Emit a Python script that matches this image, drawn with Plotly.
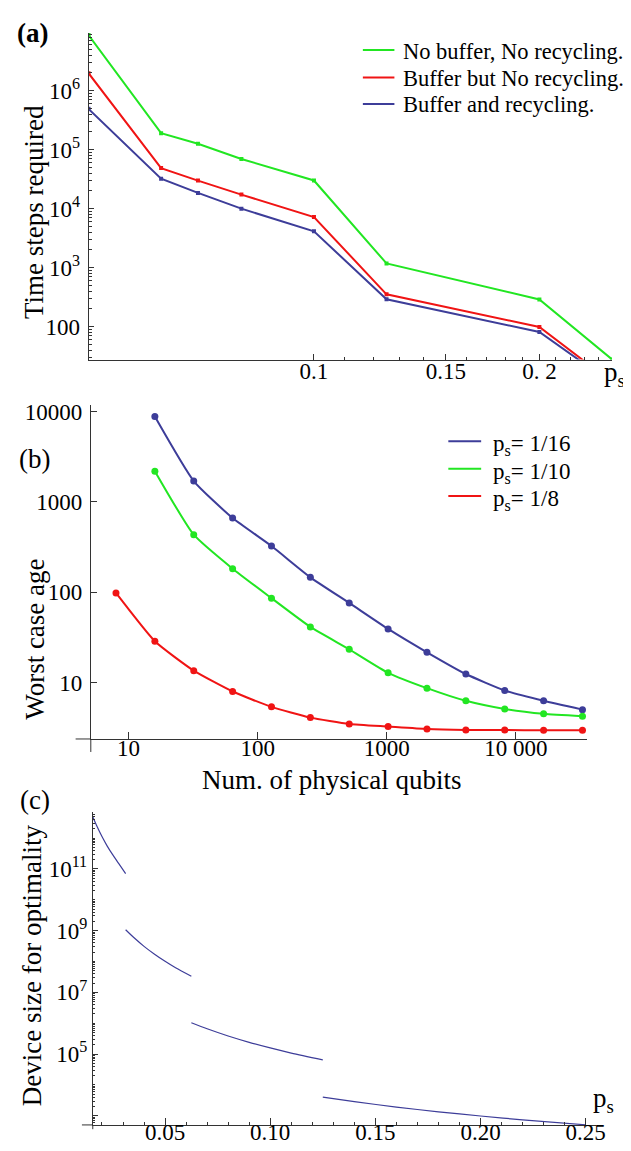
import plotly.graph_objects as go

W, H = 631, 1151
FONT = "Liberation Serif"
AX = "#333333"
GREEN = "#22e622"
RED = "#f01414"
BLUE = "#3d3d99"

# ---------------- data: panel (a) ----------------
ps_a = [0.05, 0.0625, 0.07, 0.08, 0.1, 0.125, 0.2, 0.25]
steps_nobuf_norecyc = [8.7e6, 1.9e5, 1.26e5, 6.95e4, 3.0e4, 1180, 290, 28]
steps_buf_norecyc = [1.97e6, 4.86e4, 2.99e4, 1.73e4, 7.2e3, 354, 99, 11.5]
steps_buf_recyc = [4.9e5, 3.22e4, 1.85e4, 1.0e4, 4130, 292, 81.5, 11]
names_a = ["No buffer, No recycling.", "Buffer but No recycling.", "Buffer and recycling."]
xtickvals_a = [0.1, 0.15, 0.2]
xticktext_a = ["0.1", "0.15", "0. 2"]
xminor_a = [0.11, 0.12, 0.13, 0.14, 0.16, 0.17, 0.18, 0.19, 0.21, 0.22, 0.23, 0.24]
ytickvals_a = [100, 1e3, 1e4, 1e5, 1e6]
yticktext_a = ["100", "10<sup>3</sup>", "10<sup>4</sup>", "10<sup>5</sup>", "10<sup>6</sup>"]

# ---------------- data: panel (b) ----------------
qubits_8 = [8, 16, 32, 64, 128, 256, 512, 1024, 2048, 4096, 8192, 16384, 32768]
qubits_16 = [16, 32, 64, 128, 256, 512, 1024, 2048, 4096, 8192, 16384, 32768]
age_ps16 = [8810, 1700, 662, 324, 146, 76, 39.2, 21.6, 12.4, 8.15, 6.26, 5.0]
age_ps10 = [2190, 433, 182, 85.8, 41.2, 23.3, 12.8, 8.65, 6.26, 5.09, 4.49, 4.22]
age_ps8 = [98, 28.6, 13.5, 7.94, 5.37, 4.08, 3.47, 3.25, 3.05, 2.98, 2.97, 2.96, 2.95]
names_b = ["p<sub>s</sub>= 1/16", "p<sub>s</sub>= 1/10", "p<sub>s</sub>= 1/8"]
xtickvals_b = [10, 100, 1000, 10000]
xticktext_b = ["10", "100", "1000", "10 000"]
ytickvals_b = [10, 100, 1000, 10000]
yticktext_b = ["10", "100", "1000", "10000"]

# ---------------- data: panel (c) ----------------
ps_c1 = [0.015625, 0.0175, 0.02, 0.0225, 0.025, 0.028, 0.03125]
size_c1 = [4.9e12, 2.5e12, 1.12e12, 5.5e11, 2.95e11, 1.48e11, 7.1e10]
ps_c2 = [0.03125, 0.035, 0.04, 0.045, 0.05, 0.055, 0.0625]
size_c2 = [1.07e9, 6.1e8, 3.1e8, 1.73e8, 1.02e8, 6.3e7, 3.35e7]
ps_c3 = [0.0625, 0.07, 0.08, 0.09, 0.1, 0.11, 0.125]
size_c3 = [1.04e6, 6.6e5, 3.86e5, 2.41e5, 1.58e5, 1.08e5, 6.5e4]
ps_c4 = [0.125, 0.14, 0.16, 0.18, 0.2, 0.22, 0.25]
size_c4 = [4030, 2870, 1920, 1350, 984, 740, 510]
xtickvals_c = [0.05, 0.10, 0.15, 0.20, 0.25]
xticktext_c = ["0.05", "0.10", "0.15", "0.20", "0.25"]
xminor_c = [0.02, 0.03, 0.04, 0.06, 0.07, 0.08, 0.09, 0.11, 0.12, 0.13, 0.14,
            0.16, 0.17, 0.18, 0.19, 0.21, 0.22, 0.23, 0.24]
ytickvals_c = [1e3, 1e5, 1e7, 1e9, 1e11]
yticktext_c = [" ", "10<sup>5</sup>", "10<sup>7</sup>", "10<sup>9</sup>", "10<sup>11</sup>"]


def px(x):
    return x / W


def py(y):
    return 1 - y / H


fig = go.Figure()

# panel (a) traces
for vals, col in zip([steps_nobuf_norecyc, steps_buf_norecyc, steps_buf_recyc],
                     [GREEN, RED, BLUE]):
    fig.add_trace(go.Scatter(x=ps_a, y=vals, mode="lines+markers", xaxis="x", yaxis="y",
                             line=dict(color=col, width=2),
                             marker=dict(symbol="square", size=4, color=col),
                             showlegend=False))

# panel (b) traces
for xs, vals, col in zip([qubits_16, qubits_16, qubits_8],
                         [age_ps16, age_ps10, age_ps8], [BLUE, GREEN, RED]):
    fig.add_trace(go.Scatter(x=xs, y=vals, mode="lines+markers", xaxis="x2", yaxis="y2",
                             line=dict(color=col, width=2, shape="spline", smoothing=0.5),
                             marker=dict(symbol="circle", size=7, color=col),
                             showlegend=False))

# panel (c) traces
for xs, vals in [(ps_c1, size_c1), (ps_c2, size_c2), (ps_c3, size_c3), (ps_c4, size_c4)]:
    fig.add_trace(go.Scatter(x=xs, y=vals, mode="lines", xaxis="x3", yaxis="y3",
                             line=dict(color=BLUE, width=1.2, shape="spline", smoothing=0.8),
                             showlegend=False))

tickfont = dict(family=FONT, size=23, color="black")
base = dict(showline=True, linecolor=AX, linewidth=1, showgrid=False, zeroline=False,
            ticks="inside", tickcolor=AX, tickwidth=1, tickfont=tickfont, tickmode="array")

ymin_a = [m * 10 ** k for k in range(1, 7) for m in range(2, 10)]
ymin_c = [m * 10 ** k for k in range(2, 13) for m in range(1, 10)
          if not (m == 1 and k % 2 == 1)]

fig.update_layout(
    width=W, height=H, margin=dict(l=0, r=0, t=0, b=0),
    paper_bgcolor="white", plot_bgcolor="white", showlegend=False,
    font=dict(family=FONT, color="black"),
    xaxis=dict(base, domain=[px(81.7), px(612.7)], type="log", range=[-1.30103, -0.60206],
               tickvals=xtickvals_a, ticktext=xticktext_a, ticklen=6, anchor="y",
               ticklabelstandoff=-9,
               minor=dict(tickvals=xminor_a, ticks="inside", ticklen=3, tickcolor=AX)),
    yaxis=dict(base, domain=[py(349.3), py(20)], type="log", range=[1.444, 6.978],
               tickvals=ytickvals_a, ticktext=yticktext_a, ticklen=5, anchor="x",
               ticklabelstandoff=3,
               minor=dict(tickvals=ymin_a, ticks="inside", ticklen=3, tickcolor=AX)),
    xaxis2=dict(base, domain=[px(84), px(587.7)], type="log", range=[0.708, 4.553],
                tickvals=xtickvals_b, ticktext=xticktext_b, ticklen=7, anchor="y2",
                ticklabelstandoff=-12),
    yaxis2=dict(base, domain=[py(731.7), py(395)], type="log", range=[0.374, 4.074],
                tickvals=ytickvals_b, ticktext=yticktext_b, ticklen=6, anchor="x2",
                ticklabelstandoff=3),
    xaxis3=dict(base, domain=[px(86), px(596.7)], range=[0.015625, 0.2550],
                tickvals=xtickvals_c, ticktext=xticktext_c, ticklen=6.5, anchor="y3",
                ticklabelstandoff=-14,
                minor=dict(tickvals=xminor_c, ticks="inside", ticklen=3.3, tickcolor=AX)),
    yaxis3=dict(base, domain=[py(1120.7), py(805)], type="log", range=[2.704, 12.855],
                tickvals=ytickvals_c, ticktext=yticktext_c, ticklen=5, anchor="x3",
                ticklabelstandoff=0,
                minor=dict(tickvals=ymin_c, ticks="inside", ticklen=2.5, tickcolor=AX)),
)

# axis-crossing overhangs (Mathematica style)
for (x0, y0, x1, y1) in [(68.6, 731.7, 84, 731.7), (84, 731.7, 84, 744.8),
                         (75, 1120.7, 86, 1120.7), (86, 1120.7, 86, 1125)]:
    fig.add_shape(type="line", xref="paper", yref="paper",
                  x0=px(x0), y0=py(y0), x1=px(x1), y1=py(y1),
                  line=dict(color=AX, width=1))

# legends (keys + labels)
legend_a_rows = [37.3, 65.0, 91.7]
legend_b_rows = [431.7, 459.3, 486.7]
for row, col, nm in zip(legend_a_rows, [GREEN, RED, BLUE], names_a):
    fig.add_shape(type="line", xref="paper", yref="paper",
                  x0=px(360), x1=px(392), y0=py(row), y1=py(row),
                  line=dict(color=col, width=2))
    fig.add_annotation(text=nm, x=px(399), y=py(row + 1), xref="paper", yref="paper",
                       xanchor="left", yanchor="middle", showarrow=False,
                       font=dict(family=FONT, size=22.5, color="black"))
for row, col, nm in zip(legend_b_rows, [BLUE, GREEN, RED], names_b):
    fig.add_shape(type="line", xref="paper", yref="paper",
                  x0=px(446.7), x1=px(480), y0=py(row), y1=py(row),
                  line=dict(color=col, width=2))
    fig.add_annotation(text=nm, x=px(490), y=py(row + 4), xref="paper", yref="paper",
                       xanchor="left", yanchor="middle", showarrow=False,
                       font=dict(family=FONT, size=23, color="black"))

ann = [
    ("<b>(a)</b>", 25, 20, 27, 0, "center"),
    ("(b)", 27, 450, 27, 0, "center"),
    ("(c)", 27, 793, 27, 0, "center"),
    ("Time steps required", 27, 201, 27, -90, "center"),
    ("Worst case age", 27, 631, 27, -90, "center"),
    ("Device size for optimality", 25, 960, 27, -90, "center"),
    ("Num. of physical qubits", 328, 773, 27, 0, "center"),
    ("p<sub>s</sub>", 603, 364, 27, 0, "left"),
    ("p<sub>s</sub>", 591, 1096, 27, 0, "left"),
]
for txt, x, y, sz, ang, xa in ann:
    fig.add_annotation(text=txt, x=px(x), y=py(y), xref="paper", yref="paper",
                       xanchor=xa, yanchor="middle", showarrow=False, textangle=ang,
                       font=dict(family=FONT, size=sz, color="black"))

fig.write_html("out.html")
